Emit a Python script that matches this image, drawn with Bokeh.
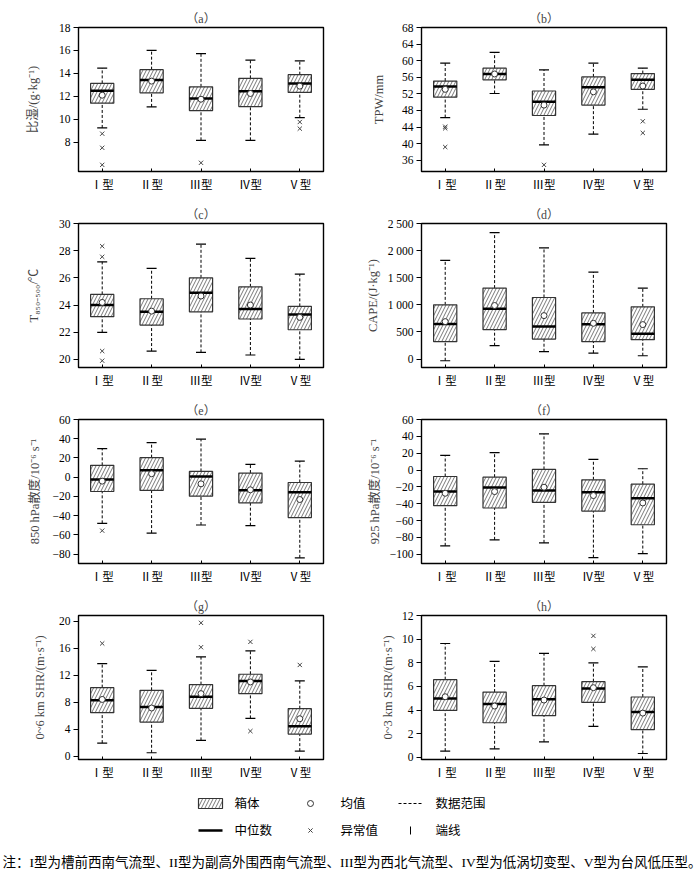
from bokeh.plotting import figure
from bokeh.layouts import column, row
from bokeh.models import Range1d, FixedTicker, ColumnDataSource
from bokeh.embed import file_html
from bokeh.resources import INLINE
from bokeh.core.properties import value

TYPES = ["Ⅰ型", "Ⅱ型", "Ⅲ型", "Ⅳ型", "Ⅴ型"]
POS = [1, 2, 3, 4, 5]

# (a) 比湿
A_HI = [14.46, 16.01, 15.72, 15.16, 15.08]
A_Q3 = [13.12, 14.32, 12.82, 13.56, 13.88]
A_MED = [12.47, 13.41, 11.80, 12.44, 13.12]
A_MEAN = [12.09, 13.32, 11.74, 12.24, 12.88]
A_Q1 = [11.39, 12.30, 10.75, 11.10, 12.33]
A_LO = [9.23, 11.07, 8.15, 8.15, 10.13]
A_OUT_X = [1, 1, 1, 3, 5, 5]
A_OUT_Y = [8.73, 7.50, 6.01, 6.19, 9.75, 9.17]

# (b) TPW
B_HI = [59.4, 62.0, 57.8, 59.4, 58.2]
B_Q3 = [55.1, 58.2, 52.7, 56.1, 56.9]
B_MED = [53.8, 56.8, 50.1, 53.6, 55.4]
B_MEAN = [53.1, 56.8, 49.3, 52.5, 53.9]
B_Q1 = [51.2, 55.4, 46.8, 49.3, 53.1]
B_LO = [46.3, 52.1, 39.7, 42.3, 48.3]
B_OUT_X = [1, 1, 1, 3, 5, 5]
B_OUT_Y = [44.1, 43.7, 39.2, 34.9, 45.4, 42.6]

# (c) T850-500
C_HI = [27.18, 26.69, 28.48, 27.43, 26.27]
C_Q3 = [24.78, 24.46, 26.00, 25.34, 23.90]
C_MED = [24.00, 23.50, 24.90, 23.70, 23.31]
C_MEAN = [24.19, 23.55, 24.66, 24.00, 23.09]
C_Q1 = [23.14, 22.52, 23.50, 22.97, 22.18]
C_LO = [21.99, 20.61, 20.51, 20.32, 20.00]
C_OUT_X = [1, 1, 1, 1]
C_OUT_Y = [27.55, 28.33, 20.61, 19.90]

# (d) CAPE
D_HI = [1821, 2333, 2049, 1605, 1309]
D_Q3 = [1000, 1309, 1136, 852, 963]
D_MED = [648, 926, 599, 642, 469]
D_MEAN = [691, 988, 802, 660, 636]
D_Q1 = [321, 543, 370, 321, 358]
D_LO = [-31, 247, 136, 111, 62]
D_OUT_X = []
D_OUT_Y = []

# (e) 850 hPa 散度
E_HI = [29.7, 36.0, 39.5, 13.3, 16.8]
E_Q3 = [12.3, 20.3, 6.0, 4.3, -5.5]
E_MED = [-2.3, 7.1, 0.8, -13.5, -15.6]
E_MEAN = [-4.1, 3.6, -6.9, -13.1, -23.2]
E_Q1 = [-14.9, -13.8, -19.7, -26.7, -42.0]
E_LO = [-48.0, -58.1, -49.7, -50.4, -83.8]
E_OUT_X = [1]
E_OUT_Y = [-55.6]

# (f) 925 hPa 散度
F_HI = [17.4, 20.6, 42.9, 12.6, 1.5]
F_Q3 = [-7.7, -8.5, 0.7, -11.6, -16.8]
F_MED = [-25.6, -20.8, -24.4, -26.4, -33.5]
F_MEAN = [-27.6, -25.6, -20.4, -30.3, -39.1]
F_Q1 = [-42.3, -45.1, -38.3, -48.7, -65.0]
F_LO = [-90.0, -82.9, -86.5, -104.0, -99.2]
F_OUT_X = []
F_OUT_Y = []

# (g) 0~6 km SHR
G_HI = [13.70, 12.72, 14.70, 15.60, 11.14]
G_Q3 = [10.15, 9.75, 10.60, 12.13, 7.03]
G_MED = [8.27, 7.28, 8.81, 11.14, 4.41]
G_MEAN = [8.40, 7.13, 9.26, 10.99, 5.54]
G_Q1 = [6.44, 5.05, 7.08, 9.26, 3.27]
G_LO = [1.93, 0.50, 2.33, 5.59, 0.74]
G_OUT_X = [1, 3, 3, 4, 4, 5]
G_OUT_Y = [16.70, 16.14, 19.75, 16.93, 3.71, 13.51]

# (h) 0~3 km SHR
H_HI = [9.65, 8.14, 8.82, 8.00, 7.66]
H_Q3 = [6.58, 5.53, 6.07, 6.41, 5.11]
H_MED = [4.99, 4.51, 4.91, 5.82, 3.83]
H_MEAN = [5.13, 4.34, 4.85, 5.90, 3.74]
H_Q1 = [3.97, 2.92, 3.52, 4.65, 2.33]
H_LO = [0.51, 0.71, 1.30, 2.61, 0.31]
H_OUT_X = [4, 4]
H_OUT_Y = [9.19, 10.30]

SERIF = "Liberation Serif, 'Noto Sans CJK SC'"
BOXW = 0.47


def neg(v):
    return str(v).replace("-", "\u2212")


def panel(letter, ylabel, yr, ticks, labels, lo, q1, med, q3, hi, mean, ox, oy,
          top, standoff):
    p = figure(width=343, height=204 if top else 196,
               x_range=Range1d(0.52, 5.48), y_range=Range1d(*yr),
               output_backend="svg", toolbar_location=None,
               min_border_left=78, min_border_right=20,
               min_border_top=27 if top else 19, min_border_bottom=33,
               title="（%s）" % letter)
    p.title.align = "center"
    p.title.text_font = SERIF
    p.title.text_font_size = "12px"
    p.title.text_font_style = "normal"
    p.title.standoff = 3

    src = ColumnDataSource(dict(
        x=POS, lo=lo, q1=q1, med=med, q3=q3, hi=hi, mean=mean,
        xl=[x - BOXW / 2 for x in POS], xr=[x + BOXW / 2 for x in POS]))

    p.segment(x0="x", y0="q3", x1="x", y1="hi", source=src,
              line_color="black", line_width=1, line_dash="3 2")
    p.segment(x0="x", y0="lo", x1="x", y1="q1", source=src,
              line_color="black", line_width=1, line_dash="3 2")
    p.vbar(x="x", width=BOXW, bottom="q1", top="q3", source=src,
           fill_color="white", line_color="#333333", line_width=1.2,
           hatch_pattern="/", hatch_color="#555555", hatch_scale=7,
           hatch_weight=0.8)
    p.segment(x0="xl", y0="med", x1="xr", y1="med", source=src,
              line_color="black", line_width=2.5)
    p.scatter(x="x", y="hi", source=src, marker="dash", size=10,
              line_color="black", line_width=1.2)
    p.scatter(x="x", y="lo", source=src, marker="dash", size=10,
              line_color="black", line_width=1.2)
    p.scatter(x="x", y="mean", source=src, marker="circle", size=6,
              fill_color="white", line_color="#333333", line_width=1)
    if ox:
        p.scatter(x=ox, y=oy, marker="x", size=6, line_color="#444444",
                  line_width=1)

    p.xgrid.visible = False
    p.ygrid.visible = False
    p.outline_line_color = "black"
    p.outline_line_width = 1.4
    p.outline_line_alpha = 1

    xa = p.xaxis[0]
    xa.ticker = FixedTicker(ticks=POS)
    xa.major_label_overrides = {x: t for x, t in zip(POS, TYPES)}
    xa.major_tick_in = 3
    xa.major_tick_out = 0
    xa.major_label_standoff = 7

    ya = p.yaxis[0]
    ya.ticker = FixedTicker(ticks=ticks)
    ya.major_label_overrides = {t: l for t, l in zip(ticks, labels)}
    ya.major_tick_in = 0
    ya.major_tick_out = 5
    ya.major_label_standoff = 3
    ya.axis_label = ylabel
    ya.axis_label_standoff = standoff
    ya.axis_label_text_font = SERIF
    ya.axis_label_text_font_size = "12.5px"
    ya.axis_label_text_font_style = "normal"

    for ax in (xa, ya):
        ax.axis_line_color = None
        ax.minor_tick_line_color = None
        ax.major_tick_line_color = "black"
        ax.major_label_text_font = SERIF
        ax.major_label_text_font_size = "11.5px"
        ax.major_label_text_color = "black"
    return p


def tl(ticks):
    return [neg(t) for t in ticks]


a_t = [8, 10, 12, 14, 16, 18]
b_t = [36, 40, 44, 48, 52, 56, 60, 64, 68]
c_t = [20, 22, 24, 26, 28, 30]
d_t = [0, 500, 1000, 1500, 2000, 2500]
d_l = ["0", "500", "1 000", "1 500", "2 000", "2 500"]
e_t = [-80, -60, -40, -20, 0, 20, 40, 60]
f_t = [-100, -80, -60, -40, -20, 0, 20, 40, 60]
g_t = [0, 4, 8, 12, 16, 20]
h_t = [0, 2, 4, 6, 8, 10, 12]

pa = panel("a", "比湿/(g·kg⁻¹)", (5.43, 18), a_t, tl(a_t),
           A_LO, A_Q1, A_MED, A_Q3, A_HI, A_MEAN, A_OUT_X, A_OUT_Y, True, 16)
pb = panel("b", "TPW/mm", (33.3, 68), b_t, tl(b_t),
           B_LO, B_Q1, B_MED, B_Q3, B_HI, B_MEAN, B_OUT_X, B_OUT_Y, True, 13)
pc = panel("c", "T₈₅₀₋₅₀₀/℃", (19.4, 30), c_t, tl(c_t),
           C_LO, C_Q1, C_MED, C_Q3, C_HI, C_MEAN, C_OUT_X, C_OUT_Y, False, 15)
pd_ = panel("d", "CAPE/(J·kg⁻¹)", (-155, 2500), d_t, d_l,
            D_LO, D_Q1, D_MED, D_Q3, D_HI, D_MEAN, D_OUT_X, D_OUT_Y, False, 5)
pe = panel("e", "850 hPa散度/10⁻⁶ s⁻¹", (-89.75, 60), e_t, tl(e_t),
           E_LO, E_Q1, E_MED, E_Q3, E_HI, E_MEAN, E_OUT_X, E_OUT_Y, False, 8)
pf = panel("f", "925 hPa散度/10⁻⁶ s⁻¹", (-111, 60), f_t, tl(f_t),
           F_LO, F_Q1, F_MED, F_Q3, F_HI, F_MEAN, F_OUT_X, F_OUT_Y, False, 5)
pg = panel("g", "0~6 km SHR/(m·s⁻¹)", (-0.5, 20.84), g_t, tl(g_t),
           G_LO, G_Q1, G_MED, G_Q3, G_HI, G_MEAN, G_OUT_X, G_OUT_Y, False, 9)
ph = panel("h", "0~3 km SHR/(m·s⁻¹)", (-0.2, 12.03), h_t, tl(h_t),
           H_LO, H_Q1, H_MED, H_Q3, H_HI, H_MEAN, H_OUT_X, H_OUT_Y, False, 4)

# legend + note
LEG_TEXT_1 = ["箱体", "均值", "数据范围"]
LEG_TEXT_2 = ["中位数", "异常值", "端线"]
NOTE = "注：I型为槽前西南气流型、II型为副高外围西南气流型、III型为西北气流型、IV型为低涡切变型、V型为台风低压型。"

lg = figure(width=700, height=87, x_range=Range1d(0, 700), y_range=Range1d(879, 792),
            output_backend="svg", toolbar_location=None, min_border=0)
lg.axis.visible = False
lg.xgrid.visible = False
lg.ygrid.visible = False
lg.outline_line_color = None

r1, r2 = 803, 830
lg.quad(left=[198], right=[222], top=[798], bottom=[808], fill_color="white",
        line_color="#333333", line_width=1.2, hatch_pattern="/",
        hatch_color="#555555", hatch_scale=7, hatch_weight=0.8)
lg.scatter(x=[310], y=[r1], marker="circle", size=6, fill_color="white",
           line_color="#333333", line_width=1)
lg.segment(x0=[398], y0=[r1], x1=[422], y1=[r1], line_color="black",
           line_width=1, line_dash="3 2")
lg.segment(x0=[198], y0=[r2], x1=[222], y1=[r2], line_color="black", line_width=2.5)
lg.scatter(x=[310], y=[r2], marker="x", size=6, line_color="#444444", line_width=1)
lg.segment(x0=[410], y0=[r2 - 4], x1=[410], y1=[r2 + 4], line_color="black", line_width=1)
lg.text(x=[234, 340, 435], y=[r1] * 3, text=LEG_TEXT_1, text_font=value(SERIF),
        text_font_size="12.5px", text_baseline="middle", text_align="left", text_color="black")
lg.text(x=[234, 340, 435], y=[r2] * 3, text=LEG_TEXT_2, text_font=value(SERIF),
        text_font_size="12.5px", text_baseline="middle", text_align="left", text_color="black")
lg.text(x=[2], y=[862], text=[NOTE], text_font=value(SERIF),
        text_font_size="13.5px", text_baseline="middle", text_align="left", text_color="black")

layout = column(row(pa, pb), row(pc, pd_), row(pe, pf), row(pg, ph), lg)

open("out.html", "w").write(file_html(layout, INLINE))
